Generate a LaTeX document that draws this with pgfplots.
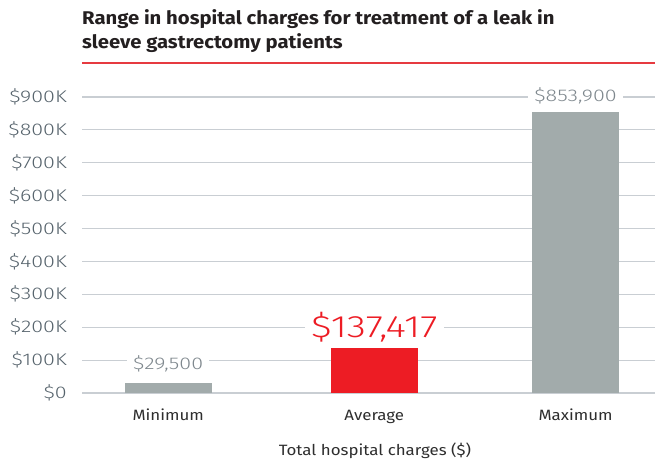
\documentclass[border=0pt]{standalone}
\usepackage{fontspec}
\setmainfont{Fira Sans}
\newfontfamily\lightfont{Fira Sans Light}[FakeStretch=1.27]
\newfontfamily\catfont{Fira Sans}[FakeStretch=1.13]
\newfontfamily\titlefont{Fira Sans}[FakeStretch=1.1]
\usepackage{pgfplots}
\pgfplotsset{compat=1.18}
\definecolor{titlec}{HTML}{231F20}
\definecolor{redline}{HTML}{E63A40}
\definecolor{gridc}{HTML}{C9CED3}
\definecolor{tickc}{HTML}{56636C}
\definecolor{barg}{HTML}{A2ABAB}
\definecolor{barr}{HTML}{ED1C24}
\definecolor{valc}{HTML}{7E878D}
\definecolor{catc}{HTML}{2E2E2E}
\begin{document}
\begin{tikzpicture}
\path[use as bounding box] (0,0) rectangle (655bp,462bp);
\begin{axis}[
  at={(82bp,69bp)}, anchor=south west,
  scale only axis, width=573bp, height=296bp,
  xmin=-0.423, xmax=2.39, ymin=0, ymax=900000,
  ytick={0,100000,200000,300000,400000,500000,600000,700000,800000,900000},
  yticklabels={\$0,\$100K,\$200K,\$300K,\$400K,\$500K,\$600K,\$700K,\$800K,\$900K},
  xtick={0,1.012,2}, xticklabels={Minimum,Average,Maximum},
  ymajorgrids, grid style={gridc, line width=1.2bp},
  axis line style={draw=none}, major tick length=0pt,
  yticklabel style={font=\lightfont\fontsize{17}{17}\selectfont, text=tickc, anchor=east, inner sep=0pt, xshift=-15bp},
  xticklabel style={font=\catfont\fontsize{15}{15}\selectfont, text=catc, anchor=base, inner sep=0pt, yshift=-27bp},
  scaled y ticks=false,
  ybar, bar width=87bp, bar shift=0pt,
  clip=false,
]
\addplot[fill=barg, draw=none, nodes near coords={\$29,500},
  every node near coord/.append style={anchor=center, yshift=19bp, fill=white, inner xsep=6bp, inner ysep=1bp, text=valc, font=\lightfont\fontsize{17}{17}\selectfont}]
  coordinates {(0,29500)};
\addplot[fill=barr, draw=none, nodes near coords={\$137,417},
  every node near coord/.append style={anchor=center, yshift=21bp, fill=white, inner xsep=6bp, inner ysep=1bp, text=barr, font=\lightfont\fontsize{31}{31}\selectfont}]
  coordinates {(1.012,137417)};
\addplot[fill=barg, draw=none, nodes near coords={\$853,900},
  every node near coord/.append style={anchor=center, yshift=16bp, fill=white, inner xsep=6bp, inner ysep=1bp, text=valc, font=\lightfont\fontsize{17}{17}\selectfont}]
  coordinates {(2,853900)};
\end{axis}
\node[anchor=base west, inner sep=0pt, text=titlec, font=\titlefont\bfseries\fontsize{18.5}{18.5}\selectfont] at (82bp,437bp) {Range in hospital charges for treatment of a leak in};
\node[anchor=base west, inner sep=0pt, text=titlec, font=\titlefont\bfseries\fontsize{18.5}{18.5}\selectfont] at (82bp,413bp) {sleeve gastrectomy patients};
\draw[redline, line width=1.5bp] (82bp,399bp) -- (655bp,399bp);
\node[anchor=base, inner sep=0pt, text=catc, font=\catfont\fontsize{15}{15}\selectfont] at (375bp,7bp) {Total hospital charges (\$)};
\end{tikzpicture}
\end{document}
